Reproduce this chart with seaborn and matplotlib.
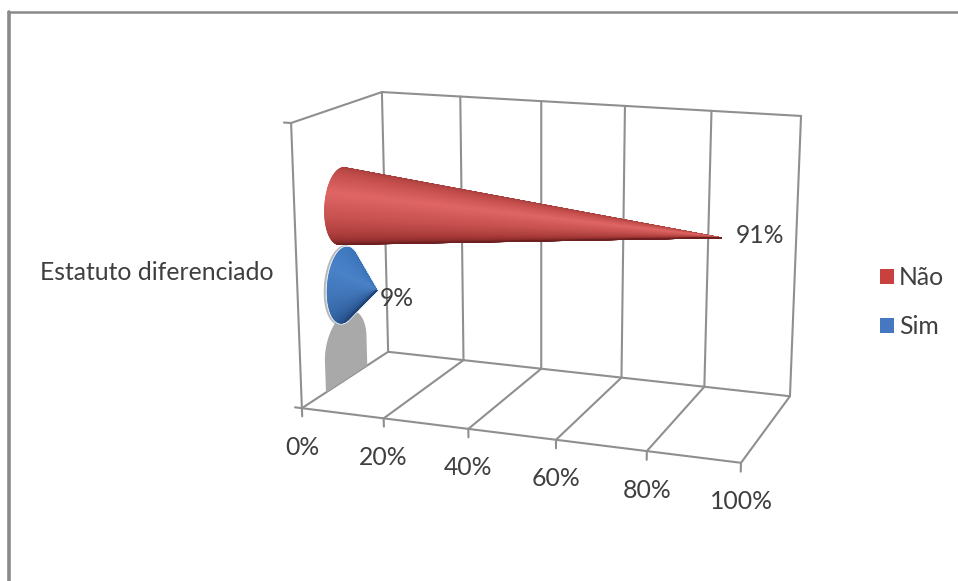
import numpy as np
import pandas as pd
import matplotlib
matplotlib.use("Agg")
import matplotlib.pyplot as plt
from matplotlib.collections import PolyCollection
from matplotlib.patches import Patch, Polygon
import seaborn as sns

# Chart data
category = "Estatuto diferenciado"
series_names = ["Não", "Sim"]
series_values = [91, 9]
series_labels = ["91%", "9%"]
axis_ticks = [0, 20, 40, 60, 80, 100]
axis_labels = ["0%", "20%", "40%", "60%", "80%", "100%"]

# Appearance
sns.set_theme(style="white")
plt.rcParams["font.family"] = ["Lato", "DejaVu Sans"]
TEXT = "#3f3f3f"
GRID = "#8f8f8f"
FS = 17.8
colors = {"Não": "#C8413F", "Sim": "#4578C0"}
shades = {
    "Não": ["#A23C3A", "#C44E4C", "#DF6664", "#C85250", "#A63A38", "#6E2020"],
    "Sim": ["#3A72B8", "#4079C0", "#4A82C8", "#4075B8", "#31609E", "#1F4478"],
}
heights = {"Não": 0.644, "Sim": 0.353}
tip_offset = {"Não": (-0.2, 0.032), "Sim": (-0.036, 0.0)}
radius_h = 0.137
radius_d = 0.19

# Camera of the 3D box: (value fraction, depth, height) -> figure pixels
box_world = np.array([[0, 0, 0], [1, 0, 0], [0, 1, 0], [1, 1, 0],
                      [0, 0, 1], [0, 1, 1], [1, 1, 1]], float)
box_pixel = np.array([[302, 408], [741, 463], [388, 352], [790, 396],
                      [291, 123], [382, 92], [801, 116]], float)


def fit_camera(world, pixel):
    rows, rhs = [], []
    for (x, y, z), (u, v) in zip(world, pixel):
        rows.append([x, y, z, 1, 0, 0, 0, 0, -u * x, -u * y, -u * z])
        rows.append([0, 0, 0, 0, x, y, z, 1, -v * x, -v * y, -v * z])
        rhs += [u, v]
    sol = np.linalg.lstsq(np.array(rows), np.array(rhs), rcond=None)[0]
    return np.append(sol, 1.0).reshape(3, 4)


CAMERA = fit_camera(box_world, box_pixel)


def project(value, depth, height):
    pts = np.broadcast_arrays(np.asarray(value, float) / 100.0, depth, height)
    world = np.stack([*pts, np.ones_like(pts[0])], axis=-1)
    uvw = world @ CAMERA.T
    return uvw[..., :2] / uvw[..., 2:3]


fig = plt.figure(figsize=(9.58, 5.81), dpi=100)
ax = fig.add_axes([0, 0, 1, 1])
ax.set_xlim(0, 958)
ax.set_ylim(581, 0)
ax.axis("off")


def draw_segments(segments, color=GRID, lw=1.5, zorder=1):
    rows = []
    for i, (a, b) in enumerate(segments):
        rows += [{"x": a[0], "y": a[1], "seg": i}, {"x": b[0], "y": b[1], "seg": i}]
    sns.lineplot(data=pd.DataFrame(rows), x="x", y="y", units="seg", estimator=None,
                 sort=False, color=color, linewidth=lw, legend=False, ax=ax, zorder=zorder)


# Walls, floor and tick marks
segments = []
for t in axis_ticks:
    segments.append((project(t, 0, 0), project(t, 1, 0)))
    segments.append((project(t, 1, 0), project(t, 1, 1)))
    segments.append((project(t, 0, 0), project(t, 0, -0.03)))
segments += [
    (project(0, 0, 0), project(100, 0, 0)),
    (project(0, 1, 0), project(100, 1, 0)),
    (project(0, 1, 1), project(100, 1, 1)),
    (project(0, 0, 1), project(0, 1, 1)),
    (project(0, 0, 0), project(0, 0, 1)),
    (project(-1.7, 0, 0), project(0, 0, 0)),
    (project(-1.7, 0, 1), project(0, 0, 1)),
]
draw_segments(segments)

# Chart area border
ax.plot([9.5, 9.5], [581, 12], color="#8a8a8a", lw=2.6, zorder=1)
ax.plot([8, 958], [12, 12], color="#8a8a8a", lw=1.8, zorder=1)


def cone_outline(name, value):
    """Tip of a cone and the part of its base circle seen from the camera."""
    height = heights[name]
    angle = np.linspace(0, 2 * np.pi, 361)[:-1]
    base = project(0, 0.5 + radius_d * np.cos(angle), height + radius_h * np.sin(angle))
    shift_d, shift_h = tip_offset[name]
    tip = project(value, 0.5 + shift_d, height + shift_h)
    bearing = np.arctan2(base[:, 1] - tip[1], tip[0] - base[:, 0])
    first, last = np.argmin(bearing), np.argmax(bearing)
    far = np.argmax(np.hypot(*(base - tip).T))
    order = np.arange(first, last + 1) if first < last else np.arange(last, first + 1)
    if far not in order:
        order = np.r_[np.arange(max(first, last), 360), np.arange(0, min(first, last) + 1)]
    arc = base[order]
    if bearing[order[0]] > bearing[order[-1]]:
        arc = arc[::-1]
    return tip, arc


def draw_cone(name, value, zorder):
    tip, arc = cone_outline(name, value)
    ramp = sns.blend_palette(shades[name], n_colors=len(arc) - 1)
    fan = [[tip, arc[i], arc[i + 1]] for i in range(len(arc) - 1)]
    ax.add_collection(PolyCollection(fan, facecolors=ramp, edgecolors=ramp,
                                     linewidths=0.6, zorder=zorder))
    return tip


# Shadow of the small cone on the side wall, cut off at the floor
shadow_h, shadow_r, shadow_d = 0.115, 0.135, 0.24
angle = np.linspace(0, np.pi, 80)
cap = project(0, 0.5 + shadow_d * np.cos(angle), shadow_h + shadow_r * np.sin(angle))
foot = project(0, np.array([0.5 - shadow_d, 0.5 + shadow_d]), np.array([0.0, 0.0]))
ax.add_patch(Polygon(np.vstack([cap, foot]), closed=True, facecolor="#a9a9a9",
                     edgecolor="none", zorder=2))

# Halo round the small cone
tip_s, arc_s = cone_outline("Sim", series_values[1])
ax.plot(arc_s[:, 0] - 1.5, arc_s[:, 1], color="#9a9a9a", lw=3.0, alpha=0.7, zorder=3)
ax.add_patch(Polygon(np.vstack([tip_s, arc_s]), closed=True, facecolor="none",
                     edgecolor="#dfe8f2", lw=2.4, zorder=3.5, joinstyle="round"))

# Cones, small one first so the long one overlaps it
label_shift = {"Não": (15, -2), "Sim": (3, 8)}
for i in sorted(range(len(series_names)), key=lambda k: series_values[k]):
    name = series_names[i]
    tip = draw_cone(name, series_values[i], zorder=4 + (series_values[i] > 50))
    dx, dy = label_shift[name]
    ax.text(tip[0] + dx, tip[1] + dy, series_labels[i], ha="left", va="center",
            fontsize=FS, color=TEXT, zorder=7)

# Axis labels
for t, lab in zip(axis_ticks, axis_labels):
    x, y = project(t, 0, 0)
    ax.text(x, y + 39, lab, ha="center", va="center", fontsize=FS, color=TEXT)
ax.text(40, 273, category, ha="left", va="center", fontsize=FS, color=TEXT)

# Legend
handles = [Patch(facecolor=colors[n], edgecolor="none", label=n) for n in series_names]
ax.legend(handles=handles, loc="upper left", bbox_to_anchor=(880, 266),
          bbox_transform=ax.transData, frameon=False, fontsize=FS, labelcolor=TEXT,
          handlelength=0.55, handleheight=0.55, handletextpad=0.22, labelspacing=1.05,
          borderpad=0, borderaxespad=0)

fig.savefig("out.png", dpi=100)
